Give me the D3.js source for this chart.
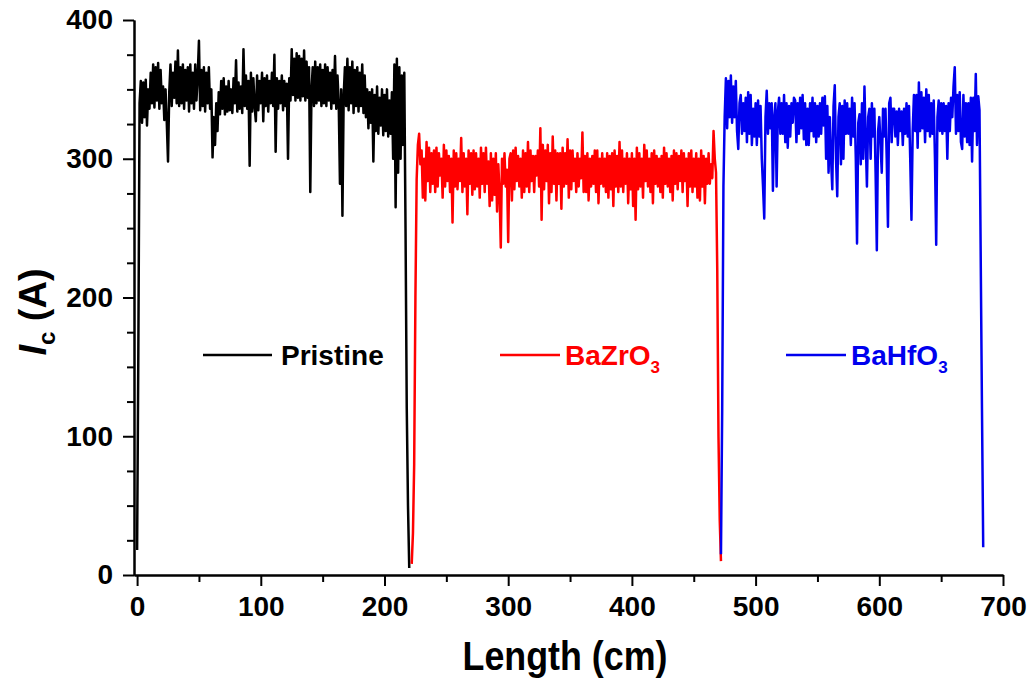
<!DOCTYPE html>
<html>
<head>
<meta charset="utf-8">
<title>Ic vs Length</title>
<script src="https://d3js.org/d3.v7.min.js"></script>
<style>
    body { margin: 0; background: #fff; }
    svg text { font-family: "Liberation Sans", Arial, sans-serif; font-weight: bold; }
    .axis path, .axis line { stroke: #000; stroke-width: 2px; }
</style>
</head>
<body>
<svg id="chart" width="1032" height="682"></svg>
<script>
var sampleStep = 1;

var pristineStart = 0;
var pristineIc = [
    18, 160, 340, 356, 326, 355, 330, 357, 324, 350,
    336, 362, 340, 368, 337, 366, 342, 369, 336, 364,
    340, 352, 328, 350, 326, 298, 348, 368, 338, 362,
    344, 370, 340, 378, 338, 366, 340, 368, 336, 364,
    342, 366, 334, 368, 340, 362, 336, 368, 342, 360,
    385, 335, 364, 338, 366, 334, 362, 340, 366, 336,
    350, 301, 330, 310, 340, 320, 348, 332, 356, 336,
    358, 332, 352, 334, 356, 335, 350, 333, 358, 340,
    371, 334, 355, 336, 352, 333, 379, 338, 360, 336,
    356, 295, 362, 334, 358, 338, 327, 360, 335, 356,
    340, 362, 327, 358, 338, 360, 334, 356, 340, 362,
    338, 375, 305, 358, 336, 356, 340, 360, 335, 356,
    338, 354, 300, 358, 342, 379, 346, 372, 342, 376,
    344, 374, 342, 372, 345, 378, 342, 370, 344, 366,
    276, 350, 366, 338, 370, 340, 366, 342, 368, 338,
    364, 340, 368, 338, 366, 342, 362, 336, 364, 340,
    374, 336, 360, 340, 282, 350, 259, 345, 366, 338,
    372, 335, 366, 340, 370, 333, 364, 338, 366, 334,
    362, 338, 368, 333, 360, 330, 350, 322, 348, 326,
    350, 298, 346, 320, 352, 318, 344, 324, 350, 317,
    346, 320, 350, 316, 342, 318, 348, 300, 368, 265,
    372, 290, 366, 300, 360, 310, 362, 250, 120, 50,
    5
];

var bazro3Start = 222;
var bazro3Ic = [
    8, 30, 80, 200, 285, 310, 318, 296, 306, 272,
    300, 270, 312, 284, 308, 276, 304, 282, 306, 276,
    308, 280, 304, 288, 300, 272, 310, 280, 306, 284,
    302, 276, 300, 254, 306, 280, 304, 278, 300, 284,
    315, 276, 304, 280, 300, 260, 306, 282, 304, 274,
    306, 278, 304, 280, 300, 272, 308, 282, 304, 276,
    308, 282, 298, 266, 304, 270, 300, 274, 304, 262,
    296, 276, 236, 300, 282, 304, 280, 292, 240, 300,
    304, 270, 306, 278, 308, 284, 302, 280, 300, 272,
    306, 276, 304, 280, 312, 276, 306, 284, 302, 276,
    302, 288, 306, 280, 322, 256, 310, 278, 306, 284,
    310, 268, 304, 276, 316, 282, 306, 270, 304, 282,
    304, 264, 308, 280, 304, 282, 314, 272, 306, 278,
    306, 284, 300, 276, 304, 280, 300, 286, 319, 276,
    302, 276, 304, 270, 300, 280, 302, 282, 306, 276,
    306, 268, 300, 282, 304, 280, 300, 276, 304, 272,
    302, 278, 304, 266, 306, 280, 302, 276, 312, 280,
    306, 276, 300, 282, 304, 268, 300, 278, 304, 266,
    300, 256, 308, 278, 304, 280, 300, 272, 310, 284,
    306, 280, 300, 276, 304, 268, 306, 282, 302, 280,
    300, 276, 302, 272, 308, 282, 304, 280, 300, 276,
    302, 270, 306, 282, 304, 278, 302, 284, 306, 276,
    304, 284, 300, 266, 304, 280, 306, 276, 300, 280,
    304, 272, 300, 270, 306, 280, 302, 268, 300, 282,
    304, 282, 296, 286, 320, 300, 290, 220, 100, 40,
    10
];

var bahfo3Start = 472;
var bahfo3Ic = [
    15, 120, 280, 330, 358, 322, 356, 330, 360, 326,
    352, 330, 356, 320, 307, 340, 346, 318, 340, 320,
    344, 312, 348, 318, 346, 310, 336, 316, 340, 310,
    342, 316, 338, 300, 280, 257, 330, 349, 318, 340,
    322, 340, 277, 330, 340, 280, 334, 344, 318, 340,
    318, 346, 312, 340, 308, 338, 316, 340, 326, 344,
    342, 312, 340, 318, 344, 322, 346, 314, 340, 310,
    336, 310, 340, 320, 344, 316, 340, 312, 338, 316,
    340, 318, 344, 324, 345, 300, 338, 290, 330, 300,
    278, 338, 353, 300, 273, 330, 340, 296, 338, 300,
    342, 318, 340, 318, 336, 310, 344, 316, 340, 300,
    239, 326, 332, 296, 340, 300, 352, 314, 280, 330,
    336, 300, 340, 316, 336, 290, 234, 320, 330, 310,
    290, 336, 316, 336, 300, 251, 340, 344, 312, 336,
    336, 316, 334, 310, 336, 320, 334, 310, 336, 318,
    340, 316, 338, 300, 256, 320, 346, 320, 346, 308,
    355, 320, 348, 322, 344, 312, 350, 320, 346, 316,
    340, 318, 342, 300, 238, 330, 342, 320, 340, 318,
    340, 320, 338, 300, 340, 320, 344, 330, 352, 366,
    318, 346, 320, 348, 312, 307, 346, 316, 340, 312,
    340, 310, 344, 298, 344, 320, 361, 310, 345, 335,
    227, 120, 20
];

var seriesNames = ["Pristine", "BaZrO", "BaHfO"];
var seriesSubs = ["", "3", "3"];
var seriesColors = ["#000000", "#ff0000", "#0000ee"];

var xMajorTicks = [0, 100, 200, 300, 400, 500, 600, 700];
var xMinorTicks = [50, 150, 250, 350, 450, 550, 650];
var yMajorTicks = [0, 100, 200, 300, 400];
var yMinorTicks = [25, 50, 75, 125, 150, 175, 225, 250, 275, 325, 350, 375];

var svg = d3.select("#chart");

var x = d3.scaleLinear().domain([-2.5, 700]).range([134, 1003]);
var y = d3.scaleLinear().domain([0, 400]).range([575, 20]);

// minor ticks first, then major axes on top
svg.append("g").attr("class", "axis")
    .attr("transform", "translate(0,575)")
    .call(d3.axisBottom(x).tickValues(xMinorTicks).tickSize(7).tickSizeOuter(0).tickFormat(""));
svg.append("g").attr("class", "axis")
    .attr("transform", "translate(134,0)")
    .call(d3.axisLeft(y).tickValues(yMinorTicks).tickSize(7).tickSizeOuter(0).tickFormat(""));

var xAxis = svg.append("g").attr("class", "axis")
    .attr("transform", "translate(0,575)")
    .call(d3.axisBottom(x).tickValues(xMajorTicks).tickSize(11).tickSizeOuter(0).tickPadding(10));
xAxis.selectAll("text").attr("font-size", 28).attr("fill", "#000");

var yAxis = svg.append("g").attr("class", "axis")
    .attr("transform", "translate(134,0)")
    .call(d3.axisLeft(y).tickValues(yMajorTicks).tickSize(11).tickSizeOuter(0).tickPadding(10));
yAxis.selectAll("text").attr("font-size", 28).attr("fill", "#000");

// series
function toPoints(start, values) {
    return values.map(function(v, i) { return [start + i * sampleStep, v]; });
}
var allSeries = [
    toPoints(pristineStart, pristineIc),
    toPoints(bazro3Start, bazro3Ic),
    toPoints(bahfo3Start, bahfo3Ic)
];

var line = d3.line()
    .x(function(d) { return x(d[0]); })
    .y(function(d) { return y(d[1]); });

svg.selectAll(".series")
    .data(allSeries)
    .enter()
    .append("path")
    .attr("class", "series")
    .attr("d", line)
    .attr("fill", "none")
    .attr("stroke", function(d, i) { return seriesColors[i]; })
    .attr("stroke-width", 2.5)
    .attr("stroke-linejoin", "round");

// legend entries sit inside the plot
var legendX = [203, 500, 786];
var legend = svg.selectAll(".legend")
    .data(seriesNames)
    .enter()
    .append("g")
    .attr("class", "legend")
    .attr("transform", function(d, i) { return "translate(" + legendX[i] + ",355)"; });

legend.append("line")
    .attr("x1", 0).attr("x2", function(d, i) { return i === 0 ? 69 : 60; })
    .attr("y1", 0).attr("y2", 0)
    .attr("stroke", function(d, i) { return seriesColors[i]; })
    .attr("stroke-width", 2.5);

var legendText = legend.append("text")
    .attr("x", function(d, i) { return i === 0 ? 78 : 65; })
    .attr("y", 10)
    .attr("font-size", 28)
    .attr("fill", function(d, i) { return seriesColors[i]; });
legendText.append("tspan").text(function(d) { return d; });
legendText.append("tspan")
    .attr("font-size", 17)
    .attr("dy", 8)
    .text(function(d, i) { return seriesSubs[i]; });

// axis titles
svg.append("text")
    .attr("x", 565)
    .attr("y", 670)
    .attr("text-anchor", "middle")
    .attr("font-size", 40)
    .attr("textLength", 205)
    .attr("lengthAdjust", "spacingAndGlyphs")
    .text("Length (cm)");

var yTitle = svg.append("text")
    .attr("transform", "translate(46,312) rotate(-90)")
    .attr("text-anchor", "middle")
    .attr("font-size", 38);
yTitle.append("tspan").attr("font-style", "italic").text("I");
yTitle.append("tspan").attr("font-size", 24).attr("dy", 9).text("c");
yTitle.append("tspan").attr("dy", -9).text(" (A)");
</script>
</body>
</html>
